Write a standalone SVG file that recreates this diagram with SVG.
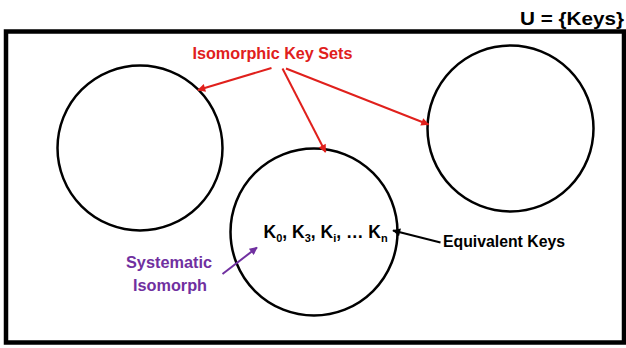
<svg xmlns="http://www.w3.org/2000/svg" width="626" height="348" viewBox="0 0 626 348">
<style>
text{font-family:"Liberation Sans",Arial,sans-serif;font-weight:bold}
.set{fill:none;stroke:#000;stroke-width:2.5}
.red{stroke:#E0201C;stroke-width:2;fill:none}
.pur{stroke:#7030A0;stroke-width:2;fill:none}
.blk{stroke:#000;stroke-width:2;fill:none}
</style>
<defs>
<marker id="ar" viewBox="0 0 10 10" refX="9" refY="5" markerWidth="10" markerHeight="8" markerUnits="userSpaceOnUse" orient="auto"><path d="M0,0 L10,5 L0,10 z" fill="#E0201C"/></marker>
<marker id="ap" viewBox="0 0 10 10" refX="9" refY="5" markerWidth="10" markerHeight="8" markerUnits="userSpaceOnUse" orient="auto"><path d="M0,0 L10,5 L0,10 z" fill="#7030A0"/></marker>
<marker id="ab" viewBox="0 0 10 10" refX="9" refY="5" markerWidth="10" markerHeight="8" markerUnits="userSpaceOnUse" orient="auto"><path d="M0,0 L10,5 L0,10 z" fill="#000"/></marker>
</defs>
<rect width="626" height="348" fill="#fff"/>
<g id="universe">
<rect x="6" y="31.5" width="618" height="311" fill="none" stroke="#000" stroke-width="4.5"/>
<text x="624" y="25" font-size="18" text-anchor="end" fill="#000" textLength="104" lengthAdjust="spacingAndGlyphs">U = {Keys}</text>
</g>
<g id="set-left"><circle class="set" cx="140" cy="148" r="82.5"/></g>
<g id="set-right"><circle class="set" cx="510.5" cy="128.5" r="83"/></g>
<g id="set-middle"><circle class="set" cx="314" cy="232" r="83.5"/>
<text x="263.5" y="238" font-size="17.5" fill="#000">K<tspan font-size="11" dy="4">0</tspan><tspan dy="-4">, K</tspan><tspan font-size="11" dy="4">3</tspan><tspan dy="-4">, K</tspan><tspan font-size="11" dy="4">i</tspan><tspan dy="-4">, … K</tspan><tspan font-size="11" dy="4">n</tspan></text>
</g>
<g id="label-iso"><text x="272.5" y="59" font-size="16.5" fill="#E0201C" text-anchor="middle" textLength="160" lengthAdjust="spacingAndGlyphs">Isomorphic Key Sets</text></g>
<g id="label-sys"><text font-size="16" fill="#7030A0" text-anchor="middle"><tspan x="169" y="268" textLength="86" lengthAdjust="spacingAndGlyphs">Systematic</tspan><tspan x="170" y="291" textLength="74" lengthAdjust="spacingAndGlyphs">Isomorph</tspan></text></g>
<g id="label-eq"><text x="443" y="247" font-size="16" fill="#000" textLength="122" lengthAdjust="spacingAndGlyphs">Equivalent Keys</text></g>
<g id="connectors">
<line class="red" x1="271.5" y1="68" x2="198" y2="90" marker-end="url(#ar)"/>
<line class="red" x1="282.5" y1="68.5" x2="325.5" y2="152" marker-end="url(#ar)"/>
<line class="red" x1="286" y1="68.5" x2="428.5" y2="124.5" marker-end="url(#ar)"/>
<line class="pur" x1="222.5" y1="274" x2="257" y2="247.5" marker-end="url(#ap)"/>
<line class="blk" x1="440.5" y1="242.5" x2="393" y2="230.5" marker-end="url(#ab)"/>
</g>
</svg>
